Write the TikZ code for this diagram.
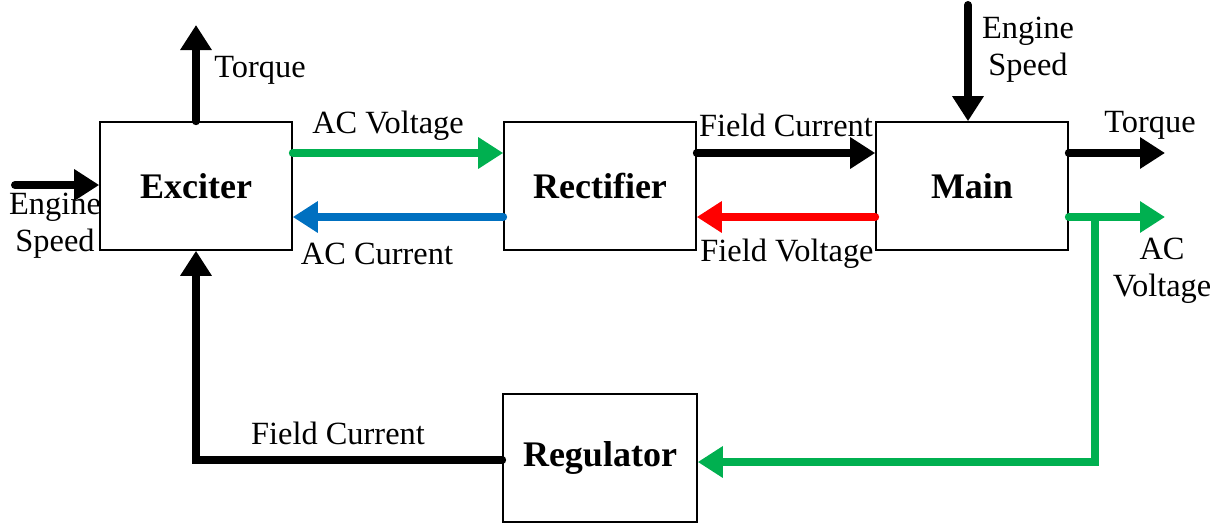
\documentclass[tikz,border=0pt]{standalone}
\usepackage{fontspec}
\setmainfont{Liberation Serif}
\usepackage{tikz}
\usetikzlibrary{arrows.meta,calc}
\definecolor{sigGreen}{HTML}{00B050}
\definecolor{sigBlue}{HTML}{0070C0}
\definecolor{sigRed}{HTML}{FF0000}

\begin{document}
\begin{tikzpicture}[x=0.5pt,y=-0.5pt,
  block/.style={draw,line width=0.8pt,minimum width=96pt,minimum height=64pt,
    font=\fontsize{18}{21}\selectfont\bfseries},
  sig/.style={line width=4pt,line cap=round,-{Triangle[length=12.5pt,width=15pt]}},
  lbl/.style={font=\fontsize{16.2}{18.5}\selectfont,align=center,inner sep=0pt}]
  \useasboundingbox (0,0) rectangle (1222,525);
  % blocks
  \node[block] (exc) at (196,186) {Exciter};
  \node[block] (rect) at (600,186) {Rectifier};
  \node[block] (main) at (972,186) {Main};
  \node[block,minimum width=97pt] (reg) at (600,458) {Regulator};
  % free ends
  \coordinate (esIn) at (15,185);
  \coordinate (tqExc) at (196,25);
  \coordinate (esMain) at (968,5);
  \coordinate (tqMain) at (1165,153);
  \coordinate (acOut) at (1165,217);
  \coordinate (fbTap) at (1095,217);
  \coordinate (fcCorner) at (196,460);
  % exciter
  \draw[sig] (esIn) -- (exc.west |- esIn);
  \draw[sig] (exc.north) -- (tqExc);
  % exciter <-> rectifier
  \draw[sig,sigGreen] (exc.east |- 0,153) -- (rect.west |- 0,153);
  \draw[sig,sigBlue] (rect.west |- 0,217) -- (exc.east |- 0,217);
  % rectifier <-> main
  \draw[sig] (rect.east |- 0,153) -- (main.west |- 0,153);
  \draw[sig,sigRed] (main.west |- 0,217) -- (rect.east |- 0,217);
  % main
  \draw[sig] (esMain) -- (esMain |- main.north);
  \draw[sig] (main.east |- tqMain) -- (tqMain);
  \draw[sig,sigGreen] (main.east |- acOut) -- (acOut);
  % feedback loop
  \draw[sig,sigGreen] (fbTap) -- (fbTap |- 0,462) -- (reg.east |- 0,462);
  \draw[sig] (reg.west |- fcCorner) -- (fcCorner) -- (exc.south);
  % labels
  \node[lbl,anchor=west] (lTqExc) at (214,70) {Torque};
  \node[lbl] (lEsIn) at (55,226) {Engine\\Speed};
  \node[lbl] (lAcV) at (388,126) {AC Voltage};
  \node[lbl] (lAcC) at (377,254) {AC Current};
  \node[lbl] (lFc) at (786,125) {Field Current};
  \node[lbl] (lFv) at (787,254) {Field Voltage};
  \node[lbl] (lEsMain) at (1028,50) {Engine\\Speed};
  \node[lbl] (lTqMain) at (1150,125) {Torque};
  \node[lbl] (lAcOut) at (1162,271) {AC\\Voltage};
  \node[lbl] (lFcReg) at (338,433) {Field Current};
\end{tikzpicture}
\end{document}
